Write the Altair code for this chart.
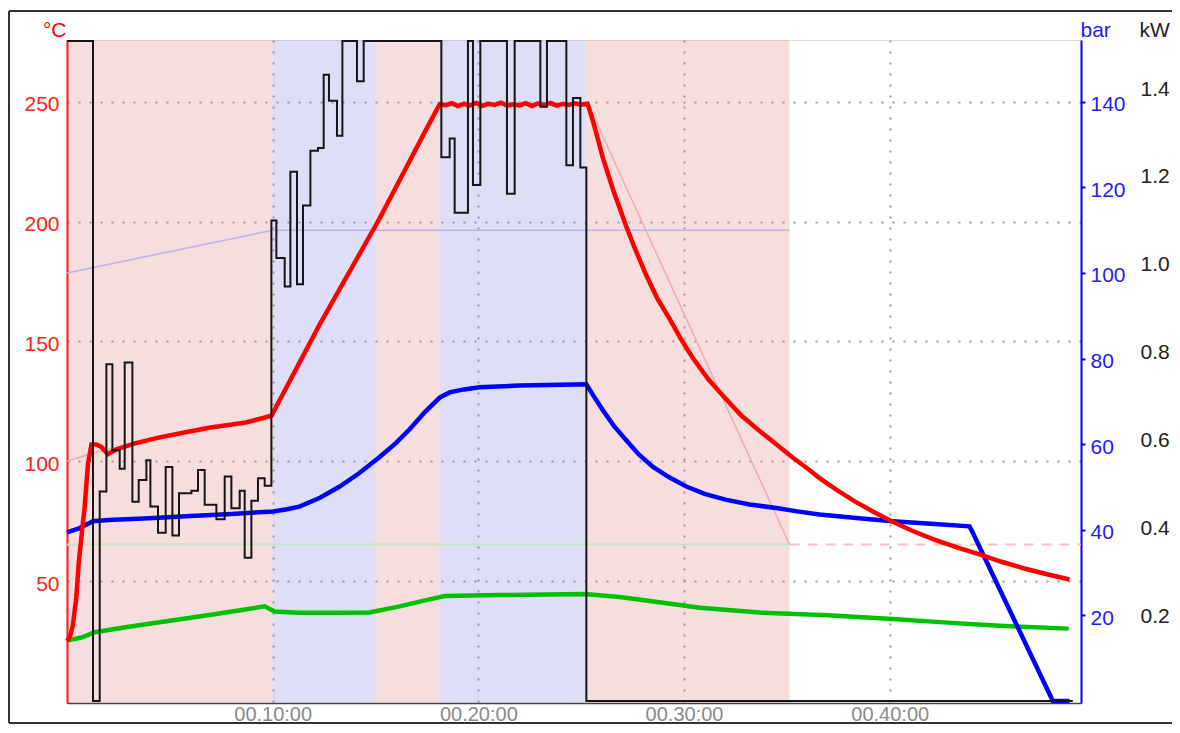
import altair as alt
import pandas as pd

# ---------------- data (time in minutes) ----------------
x_tick_values = [10, 20, 30, 40]
temp_ticks = [50, 100, 150, 200, 250]
pressure_ticks = [20, 40, 60, 80, 100, 120, 140]
power_ticks = [0.2, 0.4, 0.6, 0.8, 1.0, 1.2, 1.4]

band_start = [0, 10.0, 15.0, 18.12, 25.2]
band_end = [10.0, 15.0, 18.12, 25.2, 35.13]
band_phase = ["heat", "hold", "heat", "hold", "heat"]

# temperature (°C), red
red_t = [0, 0.15, 0.28, 0.45, 0.57, 0.72, 0.86, 1.02, 1.19, 1.43, 1.67, 1.99, 2.4, 3.3, 4.5, 5.7,
         6.9, 8.1, 8.7, 9.94, 12.28, 15.2, 17.47, 18.12,
         18.4, 18.7, 19.0, 19.3, 19.6, 19.9, 20.2, 20.5, 20.8, 21.1, 21.4, 21.7, 22.0, 22.3,
         22.6, 22.9, 23.2, 23.5, 23.8, 24.1, 24.4, 24.7, 25.0, 25.31,
         25.5, 25.7, 26.04, 26.3, 26.6, 26.9, 27.19, 27.6, 28.17, 28.7, 29.3, 29.85, 30.42,
         31.2, 32.06, 32.8, 33.68, 34.5, 35.28, 36.0, 36.59, 37.4, 38.3, 39.2, 40.14, 41.2,
         42.2, 43.3, 44.37, 45.4, 46.5, 47.6, 48.74]
red_v = [25, 27, 31.4, 43, 57.5, 70, 81, 99, 107, 107, 106, 103, 105, 107.5, 110, 112,
         114, 115.5, 116.2, 119, 157, 201.3, 238.6, 249.0,
         248.6, 249.4, 248.2, 249.1, 248.5, 249.5, 248.3, 249.2, 248.7, 249.6, 248.4, 249.0, 248.5,
         249.4, 248.2, 249.3, 248.6, 249.5, 248.4, 249.1, 248.7, 249.4, 248.8, 249.2,
         244, 238, 227, 220, 212, 205, 198, 189, 177.5, 168, 159.4, 151, 143.2,
         134, 125.8, 119, 112.6, 107, 101.6, 97, 93, 88.2, 83.3, 79, 74.8, 70.6,
         67.2, 64, 61.2, 58.2, 55.4, 53, 50.7]

# green temperature (°C)
green_t = [0, 0.7, 1.35, 3, 5, 7, 8.5, 9.61, 10.1, 11.3, 13, 14.7, 16.17, 17.3, 18.36, 21.04,
           25.17, 26.87, 28.8, 30.76, 33.68, 37, 40.14, 43, 45.34, 48.7]
green_v = [25.2, 26.5, 28.7, 31, 33.5, 36, 38, 39.5, 37.3, 36.8, 36.8, 36.9, 39.5, 41.8, 43.8, 44.2,
           44.6, 43.4, 41.2, 38.9, 36.9, 35.8, 34.2, 32.6, 31.4, 30.2]

# pressure (bar), blue
blue_t = [0, 0.62, 1.26, 2, 4, 6, 8, 10.01, 10.7, 11.3, 12.3, 13.26, 14.2, 15.2, 16.0, 16.66, 17.4,
          18.12, 18.6, 19.3, 20.06, 22.0, 24, 25.25, 25.6, 26.06, 26.6, 27.19, 27.8, 28.49, 29.3,
          30.11, 31.0, 32.06, 33.2, 34.49, 35.5, 36.58, 38.5, 40.16, 42, 43.88, 44.04, 47.93, 48.74]
blue_v = [39.4, 40.4, 42.0, 42.3, 42.7, 43.2, 43.7, 44.3, 44.8, 45.4, 47.5, 50.1, 53.2, 57.0, 60.3, 63.5,
          67.5, 70.9, 72.1, 72.8, 73.3, 73.7, 73.9, 74.0, 71.3, 67.9, 64.2, 60.9, 57.6, 54.7, 52.2,
          50.1, 48.4, 47.0, 45.9, 45.1, 44.3, 43.6, 42.7, 42.0, 41.4, 40.8, 39.3, 0, 0]

# power (kW), black step line
power_t = [0, 1.264, 1.59, 1.915, 2.207, 2.562, 2.805, 3.179, 3.486, 3.86, 4.054, 4.424, 4.798,
           5.124, 5.445, 6.048, 6.369, 6.694, 7.263, 7.667, 7.992, 8.396, 8.639, 8.965, 9.285,
           9.611, 9.937, 10.18, 10.584, 10.861, 11.182, 11.473, 11.833, 12.202, 12.479, 12.737,
           13.126, 13.389, 14.098, 14.424, 18.201, 18.605, 18.848, 19.494, 19.738, 20.097,
           21.39, 21.765, 23.014, 23.335, 24.278, 24.599, 24.959, 25.251, 48.9]
power_v = [1.503, 0, 0.477, 0.767, 0.571, 0.529, 0.771, 0.454, 0.503, 0.548, 0.443, 0.383, 0.533,
           0.377, 0.473, 0.479, 0.526, 0.447, 0.414, 0.511, 0.439, 0.479, 0.326, 0.456, 0.507,
           0.49, 1.094, 1.009, 0.944, 1.205, 0.949, 1.128, 1.253, 1.259, 1.426, 1.367,
           1.287, 1.503, 1.411, 1.503, 1.238, 1.281, 1.112, 1.503, 1.175, 1.503,
           1.155, 1.503, 1.353, 1.503, 1.22, 1.373, 1.215, 0, 0]

# set-point lines
tset_t = [0, 1.5, 9.94, 18.12, 25.31, 35.13]
tset_v = [100, 104, 119, 249.5, 249.5, 65.3]
tset2_t = [35.13, 49.3]
tset2_v = [65.3, 65.3]
gset_t = [0, 35.13]
gset_v = [65.3, 65.3]
pset_t = [0, 10.0, 35.13]
pset_v = [100, 110, 110]

# ---------------- scales / axes ----------------
W, H = 1014, 663
PAD_L, PAD_T, PAD_R, PAD_B = 59, 32, 91, 21
temp_dom = [-0.83, 275.78]
pres_dom = [-0.464, 154.43]
pow_dom = [-0.0045, 1.5051]
FONT = "Liberation Sans"


def df(t, v):
    return pd.DataFrame({"t": t, "v": v})


x_enc = alt.X(
    "t:Q",
    scale=alt.Scale(domain=[0, 49.3], nice=False, zero=False),
    axis=alt.Axis(values=x_tick_values, labelExpr="'00.' + datum.value + ':00'",
                  grid=True, gridColor="#9a9a9a", gridDash=[2, 9], gridWidth=2,
                  domainColor="#444444", domainWidth=1.5, ticks=False, tickSize=0,
                  labelColor="#8a8a8a", labelFontSize=20, labelPadding=1, labelFont=FONT,
                  title=None),
)

temp_axis = alt.Axis(orient="left", values=temp_ticks, grid=True, gridColor="#9a9a9a",
                     gridDash=[2, 9], gridWidth=2, domainColor="#ff0000", domainWidth=2,
                     ticks=False, tickSize=0, labelColor="#ff2020", labelFontSize=21,
                     labelFont=FONT, labelPadding=8, labelOffset=3,
                     title="°C", titleColor="#ff0000", titleFontSize=21, titleFont=FONT,
                     titleFontWeight="normal", titleAngle=0, titleAlign="right",
                     titleBaseline="alphabetic", titleX=-1, titleY=-4)

pres_axis = alt.Axis(orient="right", values=pressure_ticks, grid=False, domainColor="#0000ff",
                     domainWidth=2, tickColor="#0000ff", tickSize=4, tickWidth=2,
                     labelColor="#2020ff", labelFontSize=21, labelFont=FONT, labelPadding=5,
                     labelOffset=3, title="bar", titleColor="#2020ff", titleFontSize=21,
                     titleFont=FONT, titleFontWeight="normal", titleAngle=0, titleAlign="left",
                     titleBaseline="alphabetic", titleX=-1, titleY=-4)

pow_axis = alt.Axis(orient="right", offset=58, values=power_ticks, format=".1f", grid=False,
                    domain=False, ticks=False, tickSize=0, labelColor="#222222", labelFontSize=21,
                    labelFont=FONT, labelPadding=1, labelOffset=3,
                    title="kW", titleColor="#222222", titleFontSize=21, titleFont=FONT,
                    titleFontWeight="normal", titleAngle=0, titleAlign="left",
                    titleBaseline="alphabetic", titleX=0, titleY=-4)


def yT(axis=None):
    return alt.Y("v:Q", scale=alt.Scale(domain=temp_dom, nice=False, zero=False), axis=axis)


def yP(axis=None):
    return alt.Y("v:Q", scale=alt.Scale(domain=pres_dom, nice=False, zero=False), axis=axis)


def yW(axis=None):
    return alt.Y("v:Q", scale=alt.Scale(domain=pow_dom, nice=False, zero=False), axis=axis)


bands = alt.Chart(pd.DataFrame({"t": band_start, "t2": band_end, "phase": band_phase})).mark_rect(
    opacity=0.26).encode(
    x=x_enc, x2="t2:Q",
    color=alt.Color("phase:N", scale=alt.Scale(domain=["heat", "hold"], range=["#e08080", "#8080e0"]),
                    legend=None),
)

tset = alt.Chart(df(tset_t, tset_v)).mark_line(color="#f0aaaa", strokeWidth=1.5).encode(
    x=x_enc, y=yT(temp_axis))
tset2 = alt.Chart(df(tset2_t, tset2_v)).mark_line(color="#f6c0c0", strokeWidth=2,
                                                   strokeDash=[10, 8]).encode(x=x_enc, y=yT())
gset = alt.Chart(df(gset_t, gset_v)).mark_line(color="#c6e4c2", strokeWidth=2).encode(x=x_enc, y=yT())
pset = alt.Chart(df(pset_t, pset_v)).mark_line(color="#b4b4f4", strokeWidth=1.5).encode(
    x=x_enc, y=yP(pres_axis))
green = alt.Chart(df(green_t, green_v)).mark_line(color="#00c000", strokeWidth=4.5).encode(x=x_enc, y=yT())
blue = alt.Chart(df(blue_t, blue_v)).mark_line(color="#0000ff", strokeWidth=4.5).encode(x=x_enc, y=yP())
red = alt.Chart(df(red_t, red_v)).mark_line(color="#ff0000", strokeWidth=4.5).encode(x=x_enc, y=yT())
black = alt.Chart(df(power_t, power_v)).mark_line(color="#151515", strokeWidth=2,
                                                  interpolate="step-after").encode(
    x=x_enc, y=yW(pow_axis))

# outer frame (top, left, bottom edges; the right edge lies outside the picture)
one = alt.Data(values=[{"f": 1}])
fx0, fx1 = -PAD_L + 1, W + PAD_R
fy0, fy1 = -29, H + 20
frame_top = alt.Chart(one).mark_rule(color="#333333", strokeWidth=2).encode(
    x=alt.value(fx0), x2=alt.value(fx1), y=alt.value(fy0))
frame_bottom = alt.Chart(one).mark_rule(color="#333333", strokeWidth=2).encode(
    x=alt.value(fx0), x2=alt.value(fx1), y=alt.value(fy1))
frame_left = alt.Chart(one).mark_rule(color="#333333", strokeWidth=2).encode(
    x=alt.value(fx0), y=alt.value(fy0), y2=alt.value(fy1))

chart = alt.layer(
    bands, tset, gset, tset2, pset, green, blue, red, black, frame_top, frame_bottom, frame_left
).resolve_scale(y="independent").properties(
    width=W, height=H,
    autosize=alt.AutoSizeParams(type="none"),
    padding={"left": PAD_L, "top": PAD_T, "right": PAD_R, "bottom": PAD_B},
).configure_view(strokeWidth=0).configure(font=FONT, background="white")

chart.save("out.html", embed_options={"renderer": "svg", "actions": False})
